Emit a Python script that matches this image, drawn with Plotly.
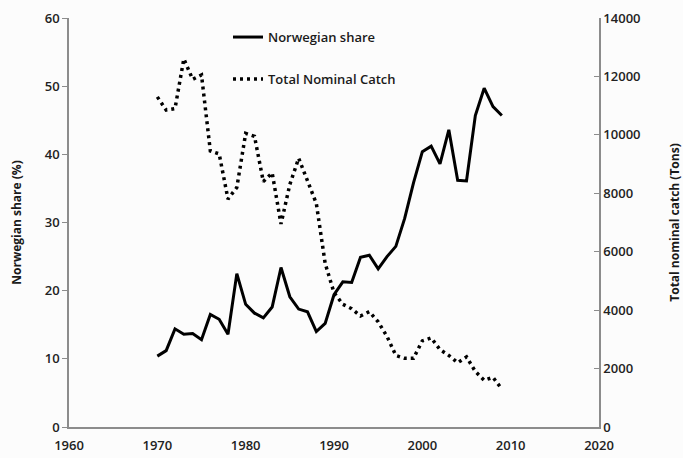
import plotly.graph_objects as go

years = list(range(1970, 2010))
norwegian_share = [10.4, 11.2, 14.4, 13.6, 13.7, 12.8, 16.5, 15.8, 13.6, 22.5,
                   18.0, 16.7, 16.0, 17.6, 23.4, 19.1, 17.3, 16.9, 14.0, 15.2,
                   19.4, 21.3, 21.2, 24.9, 25.2, 23.2, 25.0, 26.5, 30.6, 35.8,
                   40.4, 41.2, 38.6, 43.6, 36.2, 36.1, 45.7, 49.7, 47.0, 45.7]
total_catch = [11300, 10850, 10900, 12600, 11900, 12050, 9450, 9350, 7800, 8200,
               10050, 9950, 8400, 8700, 6950, 8300, 9200, 8400, 7650, 5600,
               4600, 4200, 4050, 3800, 3950, 3600, 3100, 2450, 2350, 2350,
               2950, 3050, 2650, 2450, 2200, 2400, 1900, 1600, 1700, 1300]
x_ticks = [1960, 1970, 1980, 1990, 2000, 2010, 2020]
catch_ticks = [0, 2000, 4000, 6000, 8000, 10000, 12000, 14000]

font_family = "Open Sans, Lato, Arial, sans-serif"
tick_color = "#222222"
axis_color = "#8c8c8c"
tick_font = dict(size=13, color=tick_color, weight=600)

fig = go.Figure()
fig.add_trace(go.Scatter(x=years, y=norwegian_share, name="Norwegian share",
                         mode="lines", line=dict(color="black", width=3),
                         legendgroup="a"))
fig.add_trace(go.Scatter(x=years, y=total_catch, name="Total Nominal Catch",
                         mode="lines", line=dict(color="black", width=3.5, dash="3px,4px"),
                         yaxis="y2", legendgroup="b"))

fig.update_layout(
    width=683, height=458,
    margin=dict(l=69, r=84, t=18, b=31, autoexpand=False),
    paper_bgcolor="#fcfcfc", plot_bgcolor="#fcfcfc",
    font=dict(family=font_family, size=13, color=tick_color),
    showlegend=True,
    legend=dict(x=0.30, y=0.99, xanchor="left", yanchor="top",
                bgcolor="rgba(0,0,0,0)", tracegroupgap=22,
                font=dict(size=13, color="#1a1a1a", weight=600)),
    xaxis=dict(range=[1960, 2020], tickvals=x_ticks, automargin=False,
               showgrid=False, zeroline=False, showline=True, linecolor=axis_color,
               linewidth=1.5, ticks="", ticklabelstandoff=6, tickfont=tick_font),
    yaxis=dict(range=[0, 60], dtick=10, showgrid=False, zeroline=False, automargin=False,
               showline=True, linecolor=axis_color, linewidth=1.5,
               ticks="outside", ticklen=5, tickcolor=axis_color,
               title=dict(text="<b>Norwegian share (%)</b>", font=dict(size=12, color="#1a1a1a"), standoff=21),
               tickfont=tick_font),
    yaxis2=dict(range=[0, 14000], tickvals=catch_ticks, tickformat="d",
                overlaying="y", side="right", automargin=False,
                showgrid=False, zeroline=False, showline=True, linecolor=axis_color,
                linewidth=1.5, ticks="inside", ticklen=5, tickcolor=axis_color,
                title=dict(text="<b>Total nominal catch (Tons)</b>", font=dict(size=12, color="#1a1a1a"), standoff=33),
                tickfont=tick_font),
)

fig.write_html("out.html", config={"displayModeBar": False},
               post_script="document.body.style.margin='0';")
